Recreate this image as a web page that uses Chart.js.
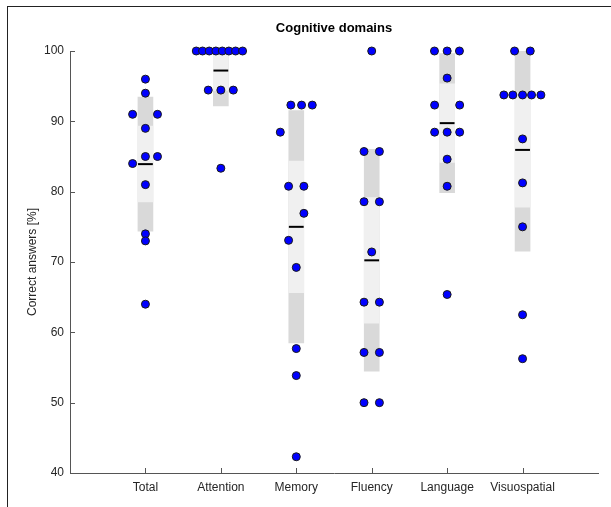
<!DOCTYPE html>
<html>
<head>
<meta charset="utf-8">
<title>Cognitive domains</title>
<script src="https://cdn.jsdelivr.net/npm/chart.js@4"></script>
<style>
    html, body { margin: 0; padding: 0; background: #fff; overflow: hidden; }
    #wrap { position: relative; width: 611px; height: 507px; }
    #frame {
        position: absolute; left: 7px; top: 6px; width: 700px; height: 600px;
        border-top: 1.5px solid #222; border-left: 1.5px solid #222;
    }
    canvas { position: absolute; left: 0; top: 0; }
</style>
</head>
<body>
<div id="wrap">
    <div id="frame"></div>
    <canvas id="domainChart" width="611" height="507"></canvas>
</div>
<script>
/**
 * Cognitive domains - correct answers per domain (notBoxPlot style)
 */

const categories = ['Total', 'Attention', 'Memory', 'Fluency', 'Language', 'Visuospatial'];
const yTicks = [40, 50, 60, 70, 80, 90, 100];

// scores per subject, percent correct
const totalScores = [96, 94, 91, 91, 89, 85, 85, 84, 81, 74, 73, 64];
const attentionScores = [100, 100, 100, 100, 100, 100, 100, 100, 94.44, 94.44, 94.44, 83.33];
const memoryScores = [92.31, 92.31, 92.31, 88.46, 80.77, 80.77, 76.92, 73.08, 69.23, 57.69, 53.85, 42.31];
const fluencyScores = [100, 85.71, 85.71, 78.57, 78.57, 71.43, 64.29, 64.29, 57.14, 57.14, 50, 50];
const languageScores = [100, 100, 100, 96.15, 92.31, 92.31, 88.46, 88.46, 88.46, 84.62, 80.77, 65.38];
const visuospatialScores = [100, 100, 93.75, 93.75, 93.75, 93.75, 93.75, 87.5, 81.25, 75, 62.5, 56.25];

// horizontal spread of the dots around each category (category units)
const totalSpread = [0, 0, -0.17, 0.16, 0, 0, 0.16, -0.17, 0, 0, 0, 0];
const attentionSpread = [-0.326, -0.243, -0.154, -0.066, 0.019, 0.106, 0.195, 0.288, -0.167, 0, 0.165, 0];
const memorySpread = [-0.072, 0.07, 0.212, -0.212, -0.102, 0.101, 0.101, -0.102, 0, 0, 0, 0];
const fluencySpread = [0, -0.102, 0.102, -0.102, 0.102, 0, -0.102, 0.102, -0.102, 0.102, -0.102, 0.102];
const languageSpread = [-0.168, 0, 0.163, 0, -0.166, 0.166, -0.166, 0, 0.166, 0, 0, 0];
const visuospatialSpread = [-0.106, 0.102, -0.248, -0.129, 0, 0.119, 0.243, 0, 0, 0, 0, 0];

const allScores = [totalScores, attentionScores, memoryScores, fluencyScores, languageScores, visuospatialScores];
const allSpread = [totalSpread, attentionSpread, memorySpread, fluencySpread, languageSpread, visuospatialSpread];

const FONT = '"Liberation Sans", Arial, Helvetica, sans-serif';
const AXIS_COLOR = '#555';
const TEXT_COLOR = '#262626';

function stats(values) {
    const n = values.length;
    const mean = values.reduce((a, b) => a + b, 0) / n;
    const sd = Math.sqrt(values.reduce((a, v) => a + (v - mean) ** 2, 0) / (n - 1));
    const ci = 1.96 * sd / Math.sqrt(n);
    return { mean, sd, ci };
}

const summary = allScores.map(stats);

const sdBoxes = summary.map((s, i) => ({ x: i + 1, y: [s.mean - s.sd, s.mean + s.sd] }));
const ciBoxes = summary.map((s, i) => ({ x: i + 1, y: [s.mean - s.ci, s.mean + s.ci] }));
const meanMarks = summary.map((s, i) => ({ x: i + 1, y: s.mean }));
const dots = allScores.flatMap((vals, i) =>
    vals.map((v, j) => ({ x: i + 1 + allSpread[i][j], y: v })));

// MATLAB-ish ticks pointing into the axes, plus the title over the plot area
const axisExtras = {
    id: 'axisExtras',
    afterDraw(chart) {
        const { ctx, chartArea, scales: { x, y } } = chart;
        ctx.save();
        ctx.strokeStyle = AXIS_COLOR;
        ctx.lineWidth = 1;
        ctx.beginPath();
        y.ticks.forEach(t => {
            const py = Math.round(y.getPixelForValue(t.value)) + 0.5;
            ctx.moveTo(chartArea.left, py);
            ctx.lineTo(chartArea.left + 5, py);
        });
        x.ticks.forEach(t => {
            const px = Math.round(x.getPixelForValue(t.value)) + 0.5;
            ctx.moveTo(px, chartArea.bottom);
            ctx.lineTo(px, chartArea.bottom - 5);
        });
        ctx.stroke();

        ctx.fillStyle = '#000';
        ctx.font = 'bold 13px ' + FONT;
        ctx.textAlign = 'center';
        ctx.textBaseline = 'middle';
        ctx.fillText('Cognitive domains', (chartArea.left + chartArea.right) / 2, 28);
        ctx.restore();
    }
};

new Chart(document.getElementById('domainChart'), {
    type: 'bar',
    data: {
        datasets: [
            {
                type: 'scatter',
                data: dots,
                backgroundColor: '#0000ff',
                borderColor: '#1a1a1a',
                borderWidth: 1,
                pointRadius: 4,
                clip: false,
                order: 0
            },
            {
                type: 'scatter',
                data: meanMarks,
                pointStyle: 'line',
                pointRadius: 7.4,
                borderColor: '#000',
                borderWidth: 2,
                clip: false,
                order: 1
            },
            {
                data: ciBoxes,
                backgroundColor: '#f0f0f0',
                borderWidth: 0,
                barThickness: 15,
                grouped: false,
                order: 2
            },
            {
                data: sdBoxes,
                backgroundColor: '#d9d9d9',
                borderWidth: 0,
                barThickness: 15,
                grouped: false,
                order: 3
            }
        ]
    },
    options: {
        responsive: false,
        animation: false,
        events: [],
        layout: { padding: { top: 51, left: 0, right: 13, bottom: 0 } },
        plugins: {
            legend: { display: false },
            tooltip: { enabled: false },
            title: { display: false }
        },
        scales: {
            x: {
                type: 'linear',
                min: 0,
                max: 7,
                offset: false,
                afterBuildTicks: axis => {
                    axis.ticks = categories.map((c, i) => ({ value: i + 1 }));
                },
                afterFit: scale => { scale.height = 34; },
                ticks: {
                    callback: v => categories[v - 1] || '',
                    autoSkip: false,
                    maxRotation: 0,
                    padding: 7,
                    color: TEXT_COLOR,
                    font: { family: FONT, size: 12 }
                },
                grid: { display: true, drawOnChartArea: false, drawTicks: false, offset: false },
                border: { display: true, color: AXIS_COLOR, width: 1 }
            },
            y: {
                type: 'linear',
                min: 40,
                max: 100,
                afterBuildTicks: axis => {
                    axis.ticks = yTicks.map(v => ({ value: v }));
                },
                afterFit: scale => { scale.width = 70; },
                ticks: {
                    padding: 6,
                    color: TEXT_COLOR,
                    font: { family: FONT, size: 12 }
                },
                title: {
                    display: true,
                    text: 'Correct answers [%]',
                    color: TEXT_COLOR,
                    font: { family: FONT, size: 12 },
                    padding: { top: 25, bottom: 0 }
                },
                grid: { display: true, drawOnChartArea: false, drawTicks: false },
                border: { display: true, color: AXIS_COLOR, width: 1 }
            }
        }
    },
    plugins: [axisExtras]
});
</script>
</body>
</html>
